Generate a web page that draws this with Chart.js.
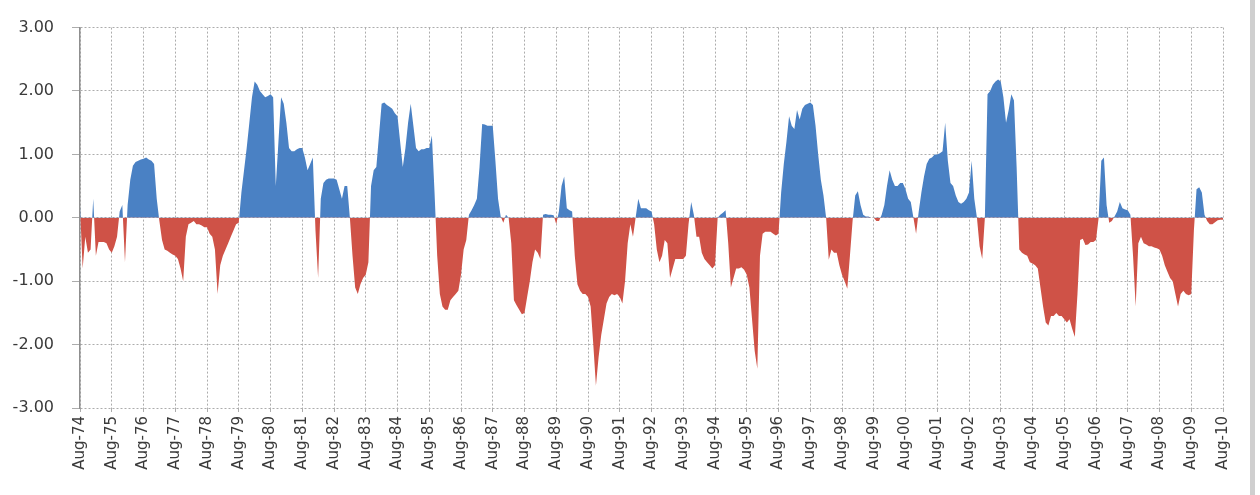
<!DOCTYPE html>
<html>
<head>
<meta charset="utf-8">
<script src="https://cdn.jsdelivr.net/npm/chart.js@4/dist/chart.umd.min.js"></script>
<style>
  html, body { margin: 0; padding: 0; background: #fff; }
  #wrap { width: 1260px; height: 495px; }
</style>
</head>
<body>
<div id="wrap"><canvas id="chart" width="1260" height="495"></canvas></div>
<script>
// year labels on the x axis, one every 12 months (Aug-74 .. Aug-10)
const yearLabels = ['Aug-74', 'Aug-75', 'Aug-76', 'Aug-77', 'Aug-78', 'Aug-79', 'Aug-80', 'Aug-81',
    'Aug-82', 'Aug-83', 'Aug-84', 'Aug-85', 'Aug-86', 'Aug-87', 'Aug-88', 'Aug-89', 'Aug-90',
    'Aug-91', 'Aug-92', 'Aug-93', 'Aug-94', 'Aug-95', 'Aug-96', 'Aug-97', 'Aug-98', 'Aug-99',
    'Aug-00', 'Aug-01', 'Aug-02', 'Aug-03', 'Aug-04', 'Aug-05', 'Aug-06', 'Aug-07', 'Aug-08',
    'Aug-09', 'Aug-10'];

// monthly values, one row per year (Aug .. Jul)
const vals1974to1980 = [
    0.18, -0.8, -0.3, -0.55, -0.5, 0.3, -0.6, -0.38, -0.38, -0.38, -0.4, -0.5,
    -0.55, -0.45, -0.3, 0.1, 0.2, -0.7, 0.2, 0.6, 0.82, 0.88, 0.9, 0.92,
    0.93, 0.95, 0.92, 0.9, 0.85, 0.3, -0.05, -0.35, -0.5, -0.52, -0.55, -0.58,
    -0.6, -0.65, -0.8, -1.0, -0.3, -0.1, -0.08, -0.05, -0.1, -0.1, -0.12, -0.15,
    -0.15, -0.25, -0.3, -0.5, -1.2, -0.75, -0.6, -0.5, -0.4, -0.3, -0.2, -0.1,
    -0.08, 0.4, 0.75, 1.1, 1.5, 1.9, 2.15, 2.1, 2.0, 1.95, 1.9, 1.92
];
const vals1980to1986 = [
    1.95, 1.9, 0.5, 1.2, 1.9, 1.8, 1.5, 1.1, 1.05, 1.05, 1.08, 1.1,
    1.1, 0.95, 0.75, 0.85, 0.95, -0.2, -0.95, 0.3, 0.55, 0.6, 0.62, 0.62,
    0.62, 0.6, 0.45, 0.3, 0.5, 0.5, 0.0, -0.6, -1.1, -1.2, -1.05, -0.95,
    -0.9, -0.7, 0.5, 0.75, 0.8, 1.3, 1.8, 1.82, 1.78, 1.75, 1.72, 1.65,
    1.6, 1.2, 0.8, 1.1, 1.5, 1.8, 1.45, 1.1, 1.05, 1.08, 1.08, 1.1,
    1.1, 1.3, 0.4, -0.6, -1.2, -1.4, -1.45, -1.45, -1.3, -1.25, -1.2, -1.15
];
const vals1986to1992 = [
    -0.9, -0.5, -0.35, 0.05, 0.12, 0.2, 0.3, 0.8, 1.48, 1.47, 1.45, 1.45,
    1.45, 0.9, 0.3, 0.02, -0.08, 0.05, 0.0, -0.4, -1.3, -1.38, -1.45, -1.52,
    -1.5, -1.25, -1.0, -0.7, -0.5, -0.55, -0.65, 0.05, 0.06, 0.05, 0.05, 0.04,
    -0.1, 0.1, 0.5, 0.65, 0.15, 0.12, 0.1, -0.6, -1.05, -1.15, -1.2, -1.2,
    -1.25, -1.4, -2.0, -2.65, -2.2, -1.85, -1.6, -1.35, -1.25, -1.2, -1.22, -1.2,
    -1.25, -1.35, -1.0, -0.4, -0.1, -0.3, 0.0, 0.3, 0.15, 0.15, 0.15, 0.12
];
const vals1992to1998 = [
    0.1, -0.1, -0.5, -0.7, -0.6, -0.35, -0.4, -0.95, -0.8, -0.65, -0.65, -0.65,
    -0.65, -0.6, -0.1, 0.25, 0.05, -0.3, -0.3, -0.55, -0.65, -0.7, -0.75, -0.8,
    -0.75, 0.0, 0.05, 0.08, 0.12, -0.4, -1.1, -0.95, -0.8, -0.8, -0.78, -0.82,
    -0.9, -1.1, -1.6, -2.1, -2.38, -0.6, -0.25, -0.22, -0.22, -0.22, -0.25, -0.28,
    -0.25, 0.4, 0.85, 1.2, 1.6, 1.45, 1.4, 1.7, 1.55, 1.72, 1.78, 1.8,
    1.82, 1.78, 1.45, 1.0, 0.6, 0.35, 0.0, -0.66, -0.5, -0.55, -0.55, -0.75
];
const vals1998to2004 = [
    -0.9, -1.0, -1.12, -0.6, -0.05, 0.35, 0.42, 0.2, 0.05, 0.02, 0.02, 0.0,
    0.0, -0.05, -0.05, 0.05, 0.2, 0.5, 0.75, 0.6, 0.5, 0.5, 0.55, 0.55,
    0.45, 0.3, 0.25, 0.0, -0.25, 0.1, 0.4, 0.65, 0.85, 0.93, 0.95, 1.0,
    1.0, 1.02, 1.05, 1.5, 0.9, 0.55, 0.5, 0.35, 0.25, 0.22, 0.25, 0.3,
    0.4, 0.9, 0.3, 0.0, -0.45, -0.65, 0.0, 1.95, 2.0, 2.1, 2.15, 2.18,
    2.15, 1.9, 1.5, 1.7, 1.95, 1.85, 0.8, -0.5, -0.55, -0.58, -0.6, -0.7
];
const vals2004to2010 = [
    -0.72, -0.75, -0.8, -1.1, -1.4, -1.65, -1.7, -1.55, -1.55, -1.5, -1.55, -1.55,
    -1.6, -1.65, -1.6, -1.75, -1.88, -1.2, -0.35, -0.33, -0.43, -0.42, -0.38, -0.38,
    -0.35, 0.0, 0.9, 0.95, 0.2, -0.08, -0.05, 0.02, 0.1, 0.25, 0.15, 0.13,
    0.12, 0.05, -0.6, -1.4, -0.4, -0.3, -0.4, -0.42, -0.45, -0.45, -0.47, -0.48,
    -0.5, -0.6, -0.75, -0.85, -0.95, -1.0, -1.2, -1.4, -1.2, -1.15, -1.2, -1.22,
    -1.2, -0.2, 0.45, 0.48, 0.4, 0.05, -0.05, -0.1, -0.1, -0.07, -0.04, -0.03,
    -0.03
];

const values = [].concat(vals1974to1980, vals1980to1986, vals1986to1992,
    vals1992to1998, vals1998to2004, vals2004to2010);
const points = values.map((v, i) => ({ x: i, y: v }));

const BLUE = '#4a81c4';
const RED = '#cf5247';
const GRID = '#acacac';
const TEXT = '#3a3a3a';

// light grey frame line down the right edge of the picture
const frameEdge = {
    id: 'frameEdge',
    afterDraw(chart) {
        const c = chart.ctx;
        c.save();
        c.fillStyle = '#cfcfcf';
        c.fillRect(1250, 0, 5, 495);
        c.restore();
    }
};

const ctx = document.getElementById('chart').getContext('2d');
new Chart(ctx, {
    type: 'line',
    data: {
        datasets: [{
            data: points,
            borderWidth: 0,
            borderColor: 'rgba(0,0,0,0)',
            pointRadius: 0,
            tension: 0,
            fill: { target: 'origin', above: BLUE, below: RED }
        }]
    },
    options: {
        responsive: false,
        animation: false,
        layout: { padding: { left: 0, top: 6.4, right: 37, bottom: 0 } },
        plugins: {
            legend: { display: false },
            tooltip: { enabled: false }
        },
        scales: {
            x: {
                type: 'linear',
                min: 0,
                max: 432,
                afterFit: s => { s.height = 87; },
                ticks: {
                    stepSize: 12,
                    autoSkip: false,
                    minRotation: 90,
                    maxRotation: 90,
                    padding: 4,
                    color: TEXT,
                    font: { family: 'DejaVu Sans', size: 15 },
                    callback: v => yearLabels[Math.round(v / 12)]
                },
                grid: { color: GRID, lineWidth: 1, tickLength: 4 },
                border: { display: false, dash: [2, 2] }
            },
            y: {
                min: -3,
                max: 3,
                afterFit: s => { s.width = 80; },
                ticks: {
                    stepSize: 1,
                    padding: 18,
                    color: TEXT,
                    font: { family: 'DejaVu Sans', size: 16 },
                    callback: v => v.toFixed(2)
                },
                grid: { color: GRID, lineWidth: 1, tickLength: 8 },
                border: { display: true, color: '#8f8f8f', width: 1.5, dash: [2, 2] }
            }
        }
    },
    plugins: [frameEdge]
});
</script>
</body>
</html>
